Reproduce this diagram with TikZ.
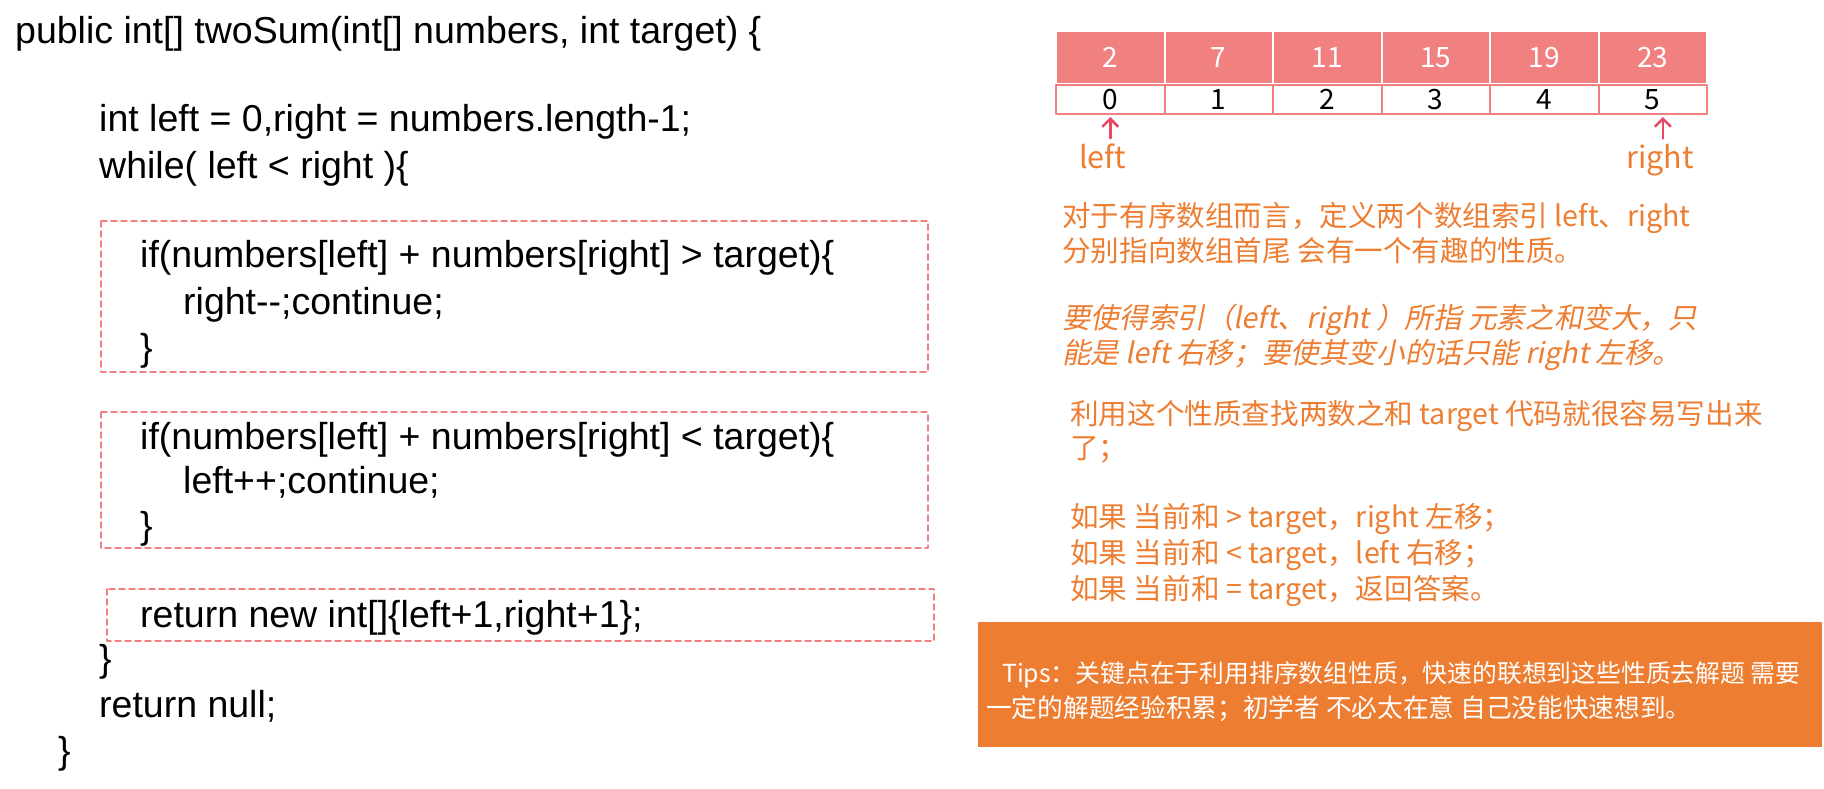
\documentclass[tikz,border=0pt]{standalone}
\usepackage{fontspec}
\setmainfont{Liberation Sans}
\newfontfamily\cjk{Noto Sans CJK SC}
\newfontfamily\cjkit[FakeSlant=0.2]{Noto Sans CJK SC}
\usetikzlibrary{arrows.meta,calc}
\definecolor{cellpink}{RGB}{241,128,128}
\definecolor{ptrred}{RGB}{232,72,100}
\definecolor{noteorange}{RGB}{237,125,49}
\tikzset{
	code/.style={anchor=base west,inner sep=0pt,font=\fontsize{37.5}{44}\selectfont},
	note/.style={anchor=base west,inner sep=0pt,text=noteorange,font=\cjk\fontsize{28.6}{35}\selectfont},
	noteit/.style={note,font=\cjkit\fontsize{28.6}{35}\selectfont},
	ptrlabel/.style={note,font=\cjk\fontsize{30.5}{35}\selectfont},
	tiptext/.style={note,text=white,font=\cjk\fontsize{25.7}{32}\selectfont},
	dashbox/.style={draw=cellpink,line width=1.5pt,dash pattern=on 6pt off 4pt},
	valcell/.style={fill=cellpink,draw=white,line width=2pt,minimum width=108.5pt,minimum height=53pt,inner sep=0pt,text=white,font=\cjk\fontsize{28}{28}\selectfont},
	idxcell/.style={fill=white,draw=cellpink,line width=2pt,minimum width=108.5pt,minimum height=29pt,inner sep=0pt,font=\cjk\fontsize{28}{28}\selectfont},
	ptr/.style={->,draw=ptrred,line width=2.5pt}
}
\begin{document}
\begin{tikzpicture}[x=1pt,y=-1pt,>={Straight Barb[length=8pt,width=16pt]},line join=round,line cap=round]
	\useasboundingbox (0,0) rectangle (1824,788);
	
	% code on the left
	\draw[dashbox] (101,221) rectangle (928,372);
	\draw[dashbox] (101,412) rectangle (928,548);
	\draw[dashbox] (107,589) rectangle (934,641);
	\node[code] (l1) at (15,43) {public int[] twoSum(int[] numbers, int target) \{};
	\node[code] (l2) at (99,131) {int left = 0,right = numbers.length-1;};
	\node[code] (l3) at (99,178) {while( left < right )\{};
	\node[code] (l4) at (140,267) {if(numbers[left] + numbers[right] > target)\{};
	\node[code] (l5) at (183,314) {right-{}-;continue;};
	\node[code] (l6) at (140,360) {\}};
	\node[code] (l7) at (140,449) {if(numbers[left] + numbers[right] < target)\{};
	\node[code] (l8) at (183,493) {left++;continue;};
	\node[code] (l9) at (140,538) {\}};
	\node[code] (l10) at (140,627) {return new int[]\{left+1,right+1\};};
	\node[code] (l11) at (99,671) {\}};
	\node[code] (l12) at (99,717) {return null;};
	\node[code] (l13) at (58,763) {\}};
	
	% array and its indices
	\foreach \v [count=\i from 0] in {2,7,11,15,19,23} {
		\node[valcell] (v\i) at ({1110.25+108.5*\i},57.5) {\v};
		\node[idxcell] (c\i) at ({1110.25+108.5*\i},99.5) {\i};
	}
	\node[ptrlabel] (lft) at (1079,168) {left};
	\node[ptrlabel] (rgt) at (1626,168) {right};
	\draw[ptr] ($(c0.south |- lft.north)+(0,-5)$) -- ($(c0.south)+(0,2)$);
	\draw[ptr] ($(rgt.north)+(3,-5)$) -- ($(rgt.north |- c5.south)+(3,2)$);
	
	% notes
	\node[note] (p1) at (1062,226) {对于有序数组而言，定义两个数组索引 left、right};
	\node[note] (p2) at (1062,261) {分别指向数组首尾 会有一个有趣的性质。};
	\node[noteit] (p3) at (1062,328) {要使得索引（left、right ）所指 元素之和变大，只};
	\node[noteit] (p4) at (1062,363) {能是 left 右移；要使其变小的话只能 right 左移。};
	\node[note] (p5) at (1070,424) {利用这个性质查找两数之和 target 代码就很容易写出来};
	\node[note] (p6) at (1070,458) {了；};
	\node[note] (p7) at (1070,527) {如果 当前和 > target，right 左移；};
	\node[note] (p8) at (1070,563) {如果 当前和 < target，left 右移；};
	\node[note] (p9) at (1070,599) {如果 当前和 = target，返回答案。};
	
	% tips
	\fill[noteorange] (978,622) rectangle (1822,747);
	\node[tiptext,font=\cjk\fontsize{24.8}{32}\selectfont] (t1) at (1002,682) {Tips：关键点在于利用排序数组性质，快速的联想到这些性质去解题 需要};
	\node[tiptext] (t2) at (986,717) {一定的解题经验积累；初学者 不必太在意 自己没能快速想到。};
\end{tikzpicture}
\end{document}
